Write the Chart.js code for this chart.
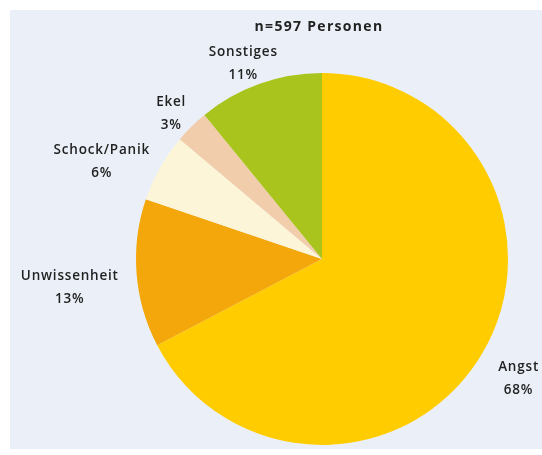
<!DOCTYPE html>
<html>
<head>
<meta charset="utf-8">
<script src="https://cdn.jsdelivr.net/npm/chart.js@4"></script>
<style>
  html, body { margin: 0; padding: 0; background: #ffffff; }
  #wrap { position: relative; width: 542px; height: 455px; }
  #panel { position: absolute; left: 10px; top: 10px; right: 0; bottom: 6px; background: #ebf0f8; }
  canvas { position: absolute; left: 0; top: 0; }
</style>
</head>
<body>
<div id="wrap">
  <div id="panel"></div>
  <canvas id="grafico" width="542" height="455"></canvas>
</div>
<script>
// Werte aus der Grafik
const kategorien = ['Angst', 'Unwissenheit', 'Schock/Panik', 'Ekel', 'Sonstiges'];
const prozent = [68, 13, 6, 3, 11];
const farben = ['#ffcc00', '#f4a70b', '#fcf5d8', '#f2cdab', '#a9c41c'];
const titel = 'n=597 Personen';

// Beschriftungen außerhalb der Tortenstücke
const labelPlugin = {
  id: 'aussenLabels',
  afterDatasetsDraw(chart) {
    const ctx = chart.ctx;
    const meta = chart.getDatasetMeta(0);
    // kleine Korrekturen wie im Original
    const versatz = { 'Angst': [8, -3], 'Schock/Panik': [-4, 0], 'Unwissenheit': [-4, 2] };
    ctx.save();
    ctx.font = '600 13.5px "Open Sans"';
    ctx.letterSpacing = '0.8px';
    ctx.fillStyle = '#222222';
    ctx.textAlign = 'center';
    ctx.textBaseline = 'middle';
    const lh = 23;
    meta.data.forEach((arc, i) => {
      const p = arc.getProps(['x', 'y', 'startAngle', 'endAngle', 'outerRadius'], true);
      const mid = (p.startAngle + p.endAngle) / 2;
      const dx = Math.cos(mid), dy = Math.sin(mid);
      const zeilen = [kategorien[i], prozent[i] + '%'];
      const w = Math.max(...zeilen.map(z => ctx.measureText(z).width));
      const h = lh + 14;
      const gap = 14;
      const ax = p.x + (p.outerRadius + gap) * dx;
      const ay = p.y + (p.outerRadius + gap) * dy;
      const v = versatz[kategorien[i]] || [0, 0];
      const cx = ax + dx * w / 2 + v[0];
      const cy = ay + dy * h / 2 + 10 + v[1];
      ctx.fillText(zeilen[0], cx, cy - lh / 2);
      ctx.fillText(zeilen[1], cx, cy + lh / 2);
    });
    // Titel
    ctx.font = 'bold 14px "Open Sans"';
    ctx.letterSpacing = '1.3px';
    ctx.fillText(titel, 319, 27);
    ctx.restore();
  }
};

new Chart(document.getElementById('grafico'), {
  type: 'pie',
  data: {
    labels: kategorien,
    datasets: [{
      data: prozent,
      backgroundColor: farben,
      borderWidth: 0,
      hoverOffset: 0,
      offset: 0
    }]
  },
  options: {
    responsive: false,
    animation: false,
    layout: { padding: { left: 136, right: 34, top: 73, bottom: 10 } },
    plugins: {
      legend: { display: false },
      tooltip: { enabled: false }
    }
  },
  plugins: [labelPlugin]
});
</script>
</body>
</html>
